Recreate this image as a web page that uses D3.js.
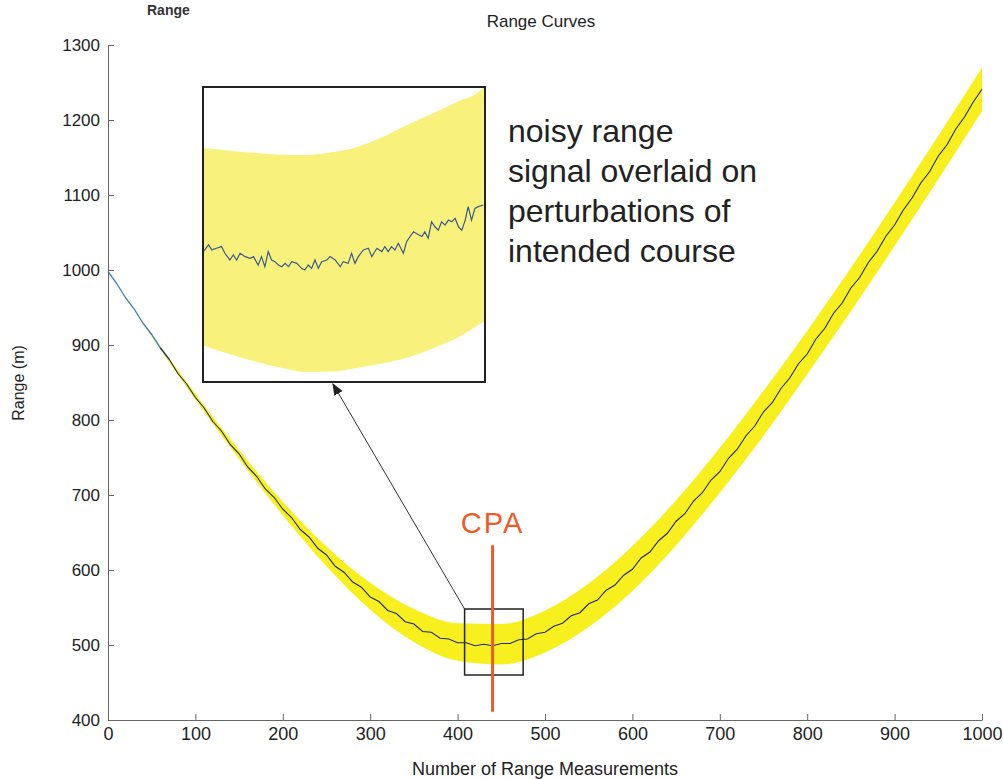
<!DOCTYPE html>
<html>
<head>
<meta charset="utf-8">
<script src="https://cdn.jsdelivr.net/npm/d3@7"></script>
<style>
  body { margin: 0; background: #fff; }
  svg { font-family: "Liberation Sans", Arial, sans-serif; }
</style>
</head>
<body>
<svg id="chart"></svg>
<script>
const width = 1003;
const height = 779;

// noisy range signal, every 10 measurements
const measIdx = d3.range(0, 1001, 10);
const rangeVals = [998, 982, 963, 948, 929, 914, 896, 881, 862, 848,
    830, 816, 798, 785, 767, 755, 737, 725, 708, 697,
    681, 670, 654, 644, 629, 620, 605, 597, 584, 577,
    564, 558, 546, 542, 531, 528, 518, 517, 509, 508,
    503, 503, 499, 501, 499, 502, 502, 507, 508, 515,
    517, 525, 529, 539, 543, 555, 560, 573, 580, 593,
    601, 616, 624, 639, 649, 665, 675, 692, 703, 720,
    731, 749, 761, 779, 792, 811, 823, 842, 856, 875,
    888, 908, 922, 942, 956, 976, 990, 1010, 1025, 1045,
    1060, 1080, 1096, 1116, 1131, 1152, 1167, 1188, 1204, 1224, 1241];

// envelope of the perturbed courses, every 50 measurements
const bandIdx = d3.range(0, 1001, 50);
const bandUpper = [998, 915, 835, 760, 691, 631, 583, 548, 529, 528, 546,
    582, 632, 693, 763, 839, 919, 1003, 1090, 1179, 1270];
const bandLower = [998, 911, 827, 748, 673, 605, 547, 504, 479, 474, 490,
    524, 572, 633, 703, 779, 861, 945, 1032, 1121, 1212];

// zoomed window
const zoomX = [408, 475];
const zoomY = [460, 548];
const insetBandIdx = [408, 414.4, 420.8, 426.8, 432.7, 438.6, 444.6, 450.5, 456.5, 462.4, 468.3, 474.5, 475];
const insetUpper = [529.8, 529.0, 528.3, 527.8, 527.7, 528.5, 530.1, 533.0, 536.7, 540.0, 543.5, 547.7, 548.5];
const insetLower = [471.0, 468.3, 466.0, 464.2, 463.0, 463.1, 464.2, 465.5, 467.2, 469.9, 473.1, 477.9, 478.3];
const insetIdx = [408.1, 409.3, 410.1, 411.2, 412.4, 413.2, 414.4, 415.2, 416.0, 416.8,
    418.0, 419.2, 420.0, 421.1, 421.9, 422.7, 423.5, 424.3, 425.1, 425.9,
    426.7, 427.5, 428.3, 429.1, 430.3, 431.4, 432.2, 433.0, 433.8, 434.6,
    435.4, 436.2, 437.4, 438.2, 439.4, 440.6, 441.3, 442.5, 443.3, 444.1,
    444.9, 446.1, 447.3, 448.1, 449.3, 450.5, 451.2, 452.0, 452.8, 453.6,
    454.4, 455.6, 456.4, 457.2, 458.0, 459.2, 460.0, 460.7, 461.5, 462.3,
    463.1, 463.9, 464.7, 465.5, 466.3, 467.1, 467.9, 468.7, 469.5, 470.3,
    471.0, 471.8, 472.6, 473.4, 474.6];
const insetRange = [498.9, 500.9, 499.4, 499.9, 500.4, 498.4, 496.4, 497.9, 496.4, 498.4,
    497.4, 496.9, 497.4, 494.9, 497.4, 494.4, 498.9, 496.4, 495.9, 494.9,
    494.4, 495.4, 494.4, 495.9, 495.4, 493.9, 493.4, 494.9, 493.9, 496.4,
    493.9, 495.9, 496.4, 497.4, 496.4, 494.4, 495.9, 495.4, 498.4, 495.4,
    497.4, 499.4, 499.9, 497.4, 499.9, 498.9, 500.4, 498.9, 500.4, 499.4,
    501.4, 498.4, 501.9, 503.4, 504.8, 503.9, 503.4, 504.8, 502.9, 507.8,
    506.3, 505.3, 507.8, 506.8, 508.3, 507.8, 508.8, 506.3, 505.3, 508.3,
    512.3, 508.3, 511.8, 512.3, 512.8];

const cpaIdx = 440;
const cpaSpan = [411, 633];

const xTicks = d3.range(0, 1001, 100);
const yTicks = d3.range(400, 1301, 100);

const svg = d3.select("#chart")
    .attr("width", width)
    .attr("height", height);

const xScale = d3.scaleLinear().domain([0, 1000]).range([108, 982]);
const yScale = d3.scaleLinear().domain([400, 1300]).range([720, 45]);

// yellow band
const band = bandIdx.map((n, i) => ({ n, hi: bandUpper[i], lo: bandLower[i] }));
svg.append("path")
    .datum(band)
    .attr("fill", "#f8ef1e")
    .attr("d", d3.area()
        .x(d => xScale(d.n))
        .y0(d => yScale(d.lo))
        .y1(d => yScale(d.hi))
        .curve(d3.curveMonotoneX));

const signal = measIdx.map((n, i) => ({ n, r: rangeVals[i] }));
const line = d3.line().x(d => xScale(d.n)).y(d => yScale(d.r));

svg.append("path")
    .datum(signal.filter(d => d.n <= 70))
    .attr("fill", "none")
    .attr("stroke", "#3f7ad6")
    .attr("stroke-width", 1.3)
    .attr("d", line);

svg.append("path")
    .datum(signal.filter(d => d.n >= 60))
    .attr("fill", "none")
    .attr("stroke", "#1f2b58")
    .attr("stroke-width", 1.1)
    .attr("d", line);

// axes
const xAxis = d3.axisBottom(xScale).tickValues(xTicks).tickFormat(d3.format("d"))
    .tickSize(-6).tickSizeOuter(0).tickPadding(7);
const yAxis = d3.axisLeft(yScale).tickValues(yTicks).tickFormat(d3.format("d"))
    .tickSize(-6).tickSizeOuter(0).tickPadding(8);

svg.append("g")
    .attr("transform", `translate(0, ${yScale(400)})`)
    .call(xAxis)
    .call(g => g.selectAll("text").attr("font-size", 18).attr("fill", "#222"))
    .call(g => g.selectAll("line, path").attr("stroke", "#666"));

svg.append("g")
    .attr("transform", `translate(${xScale(0)}, 0)`)
    .call(yAxis)
    .call(g => g.selectAll("text").attr("font-size", 17).attr("fill", "#222"))
    .call(g => g.selectAll("line, path").attr("stroke", "#666"));

// zoom box on main plot
svg.append("rect")
    .attr("x", xScale(zoomX[0]))
    .attr("y", yScale(zoomY[1]))
    .attr("width", xScale(zoomX[1]) - xScale(zoomX[0]))
    .attr("height", yScale(zoomY[0]) - yScale(zoomY[1]))
    .attr("fill", "none")
    .attr("stroke", "#222")
    .attr("stroke-width", 1.5);

// CPA marker
svg.append("line")
    .attr("x1", xScale(cpaIdx)).attr("x2", xScale(cpaIdx))
    .attr("y1", yScale(cpaSpan[0])).attr("y2", yScale(cpaSpan[1]))
    .attr("stroke", "#f05a2a")
    .attr("stroke-width", 3);

svg.append("text")
    .attr("x", xScale(cpaIdx))
    .attr("y", 533)
    .attr("text-anchor", "middle")
    .attr("font-size", 29)
    .attr("letter-spacing", 2)
    .attr("fill", "#f05a2a")
    .text("CPA");

// inset
const inset = { x0: 203, x1: 485, y0: 87, y1: 382 };
const ix = d3.scaleLinear().domain(zoomX).range([inset.x0, inset.x1]);
const iy = d3.scaleLinear().domain(zoomY).range([inset.y1, inset.y0]);

svg.append("clipPath").attr("id", "insetClip")
    .append("rect")
    .attr("x", inset.x0).attr("y", inset.y0)
    .attr("width", inset.x1 - inset.x0).attr("height", inset.y1 - inset.y0);

const insetG = svg.append("g").attr("clip-path", "url(#insetClip)");

insetG.append("rect")
    .attr("x", inset.x0).attr("y", inset.y0)
    .attr("width", inset.x1 - inset.x0).attr("height", inset.y1 - inset.y0)
    .attr("fill", "#fff");

insetG.append("path")
    .datum(insetBandIdx.map((n, i) => ({ n, hi: insetUpper[i], lo: insetLower[i] })))
    .attr("fill", "#f8f27c")
    .attr("d", d3.area()
        .x(d => ix(d.n))
        .y0(d => iy(d.lo))
        .y1(d => iy(d.hi))
        .curve(d3.curveMonotoneX));

insetG.append("path")
    .datum(insetIdx.map((n, i) => ({ n, r: insetRange[i] })))
    .attr("fill", "none")
    .attr("stroke", "#3b5b8c")
    .attr("stroke-width", 1.2)
    .attr("d", d3.line().x(d => ix(d.n)).y(d => iy(d.r)));

svg.append("rect")
    .attr("x", inset.x0).attr("y", inset.y0)
    .attr("width", inset.x1 - inset.x0).attr("height", inset.y1 - inset.y0)
    .attr("fill", "none")
    .attr("stroke", "#222")
    .attr("stroke-width", 2);

// arrow from zoom box to inset
svg.append("defs").append("marker")
    .attr("id", "arrowHead")
    .attr("viewBox", "0 0 10 10")
    .attr("refX", 9).attr("refY", 5)
    .attr("markerWidth", 12).attr("markerHeight", 12)
    .attr("markerUnits", "userSpaceOnUse")
    .attr("orient", "auto")
    .append("path")
    .attr("d", "M0,1 L10,5 L0,9 Z")
    .attr("fill", "#222");

svg.append("line")
    .attr("x1", xScale(zoomX[0])).attr("y1", yScale(zoomY[1]))
    .attr("x2", 333).attr("y2", inset.y1 + 2)
    .attr("stroke", "#333")
    .attr("stroke-width", 1)
    .attr("marker-end", "url(#arrowHead)");

// annotation
const note = ["noisy range", "signal overlaid on", "perturbations of", "intended course"];
svg.append("text")
    .attr("font-size", 32)
    .attr("fill", "#222")
    .selectAll("tspan")
    .data(note)
    .join("tspan")
    .attr("x", 508)
    .attr("y", (d, i) => 142 + i * 40)
    .text(d => d);

// titles and labels
svg.append("text")
    .attr("x", 147).attr("y", 15)
    .attr("font-size", 14)
    .attr("font-weight", "bold")
    .attr("fill", "#333")
    .text("Range");

svg.append("text")
    .attr("x", 541).attr("y", 27)
    .attr("text-anchor", "middle")
    .attr("font-size", 17)
    .attr("fill", "#222")
    .text("Range Curves");

svg.append("text")
    .attr("x", 545).attr("y", 775)
    .attr("text-anchor", "middle")
    .attr("font-size", 18)
    .attr("fill", "#222")
    .text("Number of Range Measurements");

svg.append("text")
    .attr("transform", "rotate(-90)")
    .attr("x", -383)
    .attr("y", 24)
    .attr("text-anchor", "middle")
    .attr("font-size", 16)
    .attr("fill", "#222")
    .text("Range (m)");
</script>
</body>
</html>
